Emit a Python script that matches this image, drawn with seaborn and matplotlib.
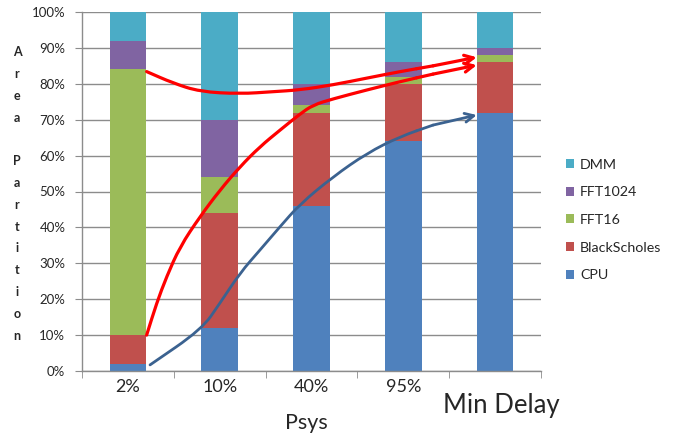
import numpy as np
import pandas as pd
import matplotlib
matplotlib.use("Agg")
import matplotlib.pyplot as plt
from matplotlib.path import Path
from matplotlib.patches import PathPatch
import seaborn as sns

# ---- data ----
categories = ["2%", "10%", "40%", "95%", "Min Delay"]
series_names = ["CPU", "BlackScholes", "FFT16", "FFT1024", "DMM"]
cpu = [2, 12, 46, 64, 72]
blackscholes = [8, 32, 26, 16, 14]
fft16 = [74, 10, 2, 2, 2]
fft1024 = [8, 16, 6, 4, 2]
dmm = [8, 30, 20, 14, 10]
series_values = [cpu, blackscholes, fft16, fft1024, dmm]
colors = ["#4F81BD", "#C0504D", "#9BBB59", "#8064A2", "#4BACC6"]

# annotation curves (x in category index units, y in percent)
red_top_x = [0.204, 0.491, 0.785, 1.221, 1.581, 1.875, 2.234, 2.605, 2.964, 3.324, 3.800]
red_top_y = [83.4, 80.2, 77.8, 77.2, 77.8, 78.3, 79.7, 81.6, 83.4, 85.0, 87.4]
red_low_x = [0.204, 0.313, 0.422, 0.567, 0.785, 1.003, 1.221, 1.439, 1.657, 1.875, 2.017, 2.234, 2.605, 2.964, 3.324, 3.800]
red_low_y = [10.0, 18.9, 26.3, 34.6, 43.0, 50.4, 56.9, 62.5, 67.1, 71.6, 74.1, 75.8, 78.3, 80.6, 82.7, 85.2]
blue_x = [0.241, 0.804, 1.003, 1.221, 1.439, 1.657, 1.875, 2.234, 2.605, 2.964, 3.324, 3.800]
blue_y = [1.7, 11.6, 18.9, 27.3, 33.7, 40.2, 46.5, 54.1, 60.7, 65.3, 68.5, 71.3]

sns.set_style("white")
plt.rcParams["font.family"] = ["Lato", "DejaVu Sans"]

fig = plt.figure(figsize=(6.83, 4.37), dpi=100)
ax = fig.add_axes([82 / 683, 1 - 371 / 437, (541 - 82) / 683, (371 - 12) / 437])

bottom = np.zeros(len(categories))
for name, vals, col in zip(series_names, series_values, colors):
    df = pd.DataFrame({"cat": categories, "val": vals})
    sns.barplot(data=df, x="cat", y="val", bottom=bottom, color=col, width=0.4,
                ax=ax, label=name, zorder=2, linewidth=0, saturation=1)
    bottom = bottom + np.array(vals)

ax.set_xlim(-0.5, 4.5)
ax.set_ylim(0, 100)
ax.set_yticks(np.arange(0, 101, 10))
ax.set_yticklabels([f"{v}%" for v in range(0, 101, 10)], fontsize=9.5)
ax.grid(axis="y", color="#8C8C8C", linewidth=1, zorder=0)
ax.set_axisbelow(True)
for s in ["top", "right"]:
    ax.spines[s].set_visible(False)
for s in ["left", "bottom"]:
    ax.spines[s].set_color("#8C8C8C")
    ax.spines[s].set_linewidth(1)
ax.tick_params(axis="y", length=5, color="#8C8C8C", pad=7, left=True)

ax.set_xticks(range(5))
ax.set_xticklabels(categories[:4] + [""], fontsize=13)
ax.set_xticks(np.arange(-0.5, 4.6, 1), minor=True)
ax.tick_params(axis="x", which="major", length=0, pad=6)
ax.tick_params(axis="x", which="minor", length=5, color="#8C8C8C", bottom=True)
ax.text(4.07, -0.06, categories[4], transform=ax.get_xaxis_transform(),
        ha="center", va="top", fontsize=18.5)
ax.set_xlabel("")
ax.set_ylabel("")
fig.text(306 / 683, 1 - 413 / 437, "Psys", ha="center", va="top", fontsize=15.5)

# stacked vertical y label
fig.text(17 / 683, 1 - 194 / 437, "\n".join("Area") + "\n\n" + "\n".join("Partition"),
         ha="center", va="center", fontsize=9, fontweight="bold", linespacing=1.98)


def smooth_path(xs, ys):
    pts = list(zip(xs, ys))
    verts = [pts[0]]
    codes = [Path.MOVETO]
    mids = [((pts[i][0] + pts[i + 1][0]) / 2, (pts[i][1] + pts[i + 1][1]) / 2)
            for i in range(len(pts) - 1)]
    verts.append(mids[0]); codes.append(Path.LINETO)
    for i in range(1, len(pts) - 1):
        verts += [pts[i], mids[i]]
        codes += [Path.CURVE3, Path.CURVE3]
    return Path(verts, codes)


# curves with arrow heads
for xs, ys, col, lw in [(red_top_x, red_top_y, "#FF0000", 2.3),
                        (red_low_x, red_low_y, "#FF0000", 2.3),
                        (blue_x, blue_y, "#3B6290", 2.0)]:
    p = smooth_path(xs[:-1], ys[:-1])
    ax.add_patch(PathPatch(p, fill=False, edgecolor=col, lw=lw, zorder=5,
                           capstyle="round", joinstyle="round"))
    mx = (xs[-3] + xs[-2]) / 2
    my = (ys[-3] + ys[-2]) / 2
    ax.plot([mx, xs[-2]], [my, ys[-2]], color=col, lw=lw, zorder=5)
    ax.annotate("", xy=(xs[-1], ys[-1]), xytext=(xs[-2], ys[-2]),
                arrowprops=dict(arrowstyle="->", color=col, lw=lw, mutation_scale=16,
                                shrinkA=0, shrinkB=0), zorder=5)

handles, labels = ax.get_legend_handles_labels()
ax.legend(handles[::-1], labels[::-1], loc="center left",
          bbox_to_anchor=(553 / 683, 1 - 220 / 437), bbox_transform=fig.transFigure,
          frameon=False, fontsize=10.3, handlelength=0.6, handleheight=0.6,
          handletextpad=0.4, labelspacing=1.1)

fig.savefig("out.png", dpi=100)
